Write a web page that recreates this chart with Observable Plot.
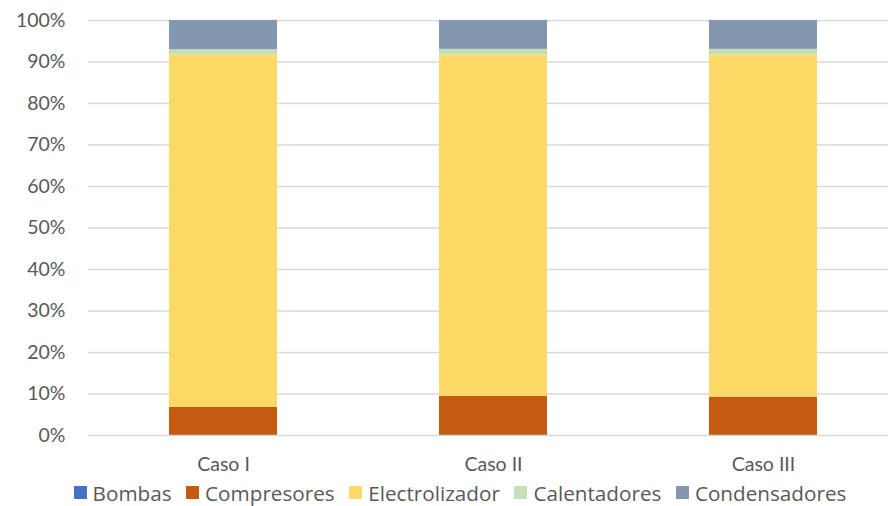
<!DOCTYPE html>
<html>
<head>
<meta charset="utf-8">
<script src="https://cdn.jsdelivr.net/npm/d3@7"></script>
<script src="https://cdn.jsdelivr.net/npm/@observablehq/plot@0.6"></script>
<style>
  html, body { margin: 0; padding: 0; background: #fff; }
  body { width: 888px; font-family: Lato, "Open Sans", sans-serif; }
  #legend {
    display: flex; justify-content: center; align-items: center;
    gap: 14.5px; font-family: "Open Sans", sans-serif; font-size: 20.7px; color: #595959;
    height: 29px; margin-left: 32px; margin-top: 1px;
  }
  #legend span.item { display: flex; align-items: center; gap: 6px; }
  #legend span.sw { width: 13px; height: 13px; display: inline-block; }
</style>
</head>
<body>
<div id="chart"></div>
<div id="legend"></div>
<script>
// Share of each component per case (percent)
const casos = ["Caso I", "Caso II", "Caso III"];
const componentes = ["Bombas", "Compresores", "Electrolizador", "Calentadores", "Condensadores"];
const bombas = [0.05, 0.05, 0.05];
const compresores = [6.7, 9.4, 9.2];
const electrolizador = [84.9, 82.2, 82.4];
const calentadores = [1.3, 1.4, 1.4];
const condensadores = [7.05, 6.95, 6.95];
const colores = ["#4472C4", "#C55A11", "#FFD966", "#C5E0B4", "#8497B0"];
const yTicks = [0, 0.1, 0.2, 0.3, 0.4, 0.5, 0.6, 0.7, 0.8, 0.9, 1];

const series = [bombas, compresores, electrolizador, calentadores, condensadores];
const data = [];
casos.forEach((c, i) => {
  componentes.forEach((k, j) => {
    data.push({caso: c, componente: k, valor: series[j][i] / 100});
  });
});

const chart = Plot.plot({
  width: 888,
  height: 477,
  marginLeft: 88,
  marginRight: 0,
  marginTop: 20,
  marginBottom: 42,
  style: {fontFamily: "Lato, 'Open Sans', sans-serif", fontSize: "19.5px", color: "#595959", background: "#fff"},
  x: {domain: casos, range: [88, 898], paddingInner: 0.6, paddingOuter: 0.3, label: null, tickSize: 0, tickPadding: 22},
  y: {domain: [0, 1], ticks: yTicks, tickFormat: d3.format(".0%"), label: null, tickSize: 0, tickPadding: 23},
  color: {domain: componentes, range: colores},
  marks: [
    Plot.ruleY(yTicks, {stroke: "#d9d9d9", strokeWidth: 1.5}),
    Plot.barY(data, {x: "caso", y: "valor", fill: "componente", order: componentes})
  ]
});
document.getElementById("chart").appendChild(chart);

const legend = document.getElementById("legend");
componentes.forEach((k, j) => {
  const item = document.createElement("span");
  item.className = "item";
  const sw = document.createElement("span");
  sw.className = "sw";
  sw.style.background = colores[j];
  const t = document.createElement("span");
  t.textContent = k;
  item.appendChild(sw);
  item.appendChild(t);
  legend.appendChild(item);
});
</script>
</body>
</html>
